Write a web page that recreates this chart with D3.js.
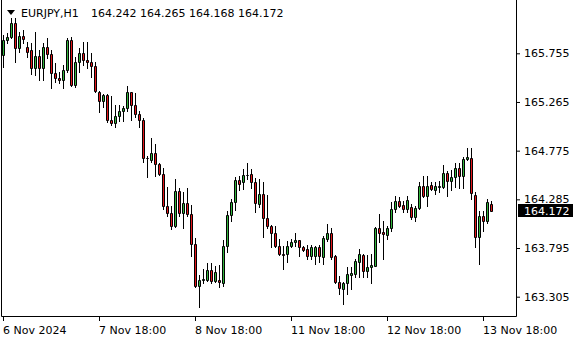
<!DOCTYPE html>
<html>
<head>
<meta charset="utf-8">
<script src="https://cdn.jsdelivr.net/npm/d3@7"></script>
<style>
  body { margin: 0; background: #fff; }
  svg { display: block; font-family: "DejaVu Sans", sans-serif; }
</style>
</head>
<body>
<svg width="580" height="340"></svg>
<script>
  // EURJPY H1 bars, 6 Nov 18:00 .. 13 Nov 20:00
  var opens = [165.738,165.889,165.919,166.059,165.809,165.929,165.819,165.789,165.608,165.728,
    165.608,165.819,165.748,165.558,165.508,165.488,165.588,165.889,165.437,165.668,
    165.758,165.688,165.668,165.628,165.367,165.277,165.337,165.086,165.056,165.127,
    165.177,165.207,165.367,165.237,165.147,165.086,164.705,164.685,164.755,164.645,
    164.545,164.214,164.144,164.013,164.364,164.144,164.244,164.134,163.833,163.411,
    163.472,163.472,163.572,163.462,163.472,163.442,163.813,164.124,164.254,164.475,
    164.455,164.535,164.545,164.455,164.234,164.334,164.093,164.013,163.943,163.813,
    163.732,163.732,163.813,163.853,163.873,163.803,163.783,163.712,163.712,163.803,
    163.702,163.883,163.943,163.712,163.452,163.381,163.442,163.522,163.532,163.652,
    163.722,163.562,163.602,163.612,163.993,163.953,163.923,163.993,164.184,164.264,
    164.224,164.184,164.204,164.103,164.194,164.424,164.314,164.434,164.374,164.414,
    164.414,164.555,164.465,164.505,164.605,164.515,164.695,164.705,164.324,163.903,
    164.113,164.063,164.242]
  var highs = [165.939,165.959,166.109,166.109,165.969,165.989,165.869,165.859,165.969,165.789,
    165.859,165.909,165.789,165.658,165.568,165.638,165.909,165.919,165.718,165.809,
    165.869,165.869,165.758,165.668,165.377,165.347,165.347,165.327,165.237,165.237,
    165.227,165.427,165.370,165.357,165.177,165.106,164.718,164.906,164.846,164.655,
    164.605,164.414,164.214,164.485,164.404,164.354,164.404,164.224,163.893,163.522,
    163.582,163.642,163.642,163.612,163.622,163.873,164.164,164.284,164.505,164.515,
    164.595,164.655,164.595,164.495,164.485,164.455,164.324,164.023,164.013,163.883,
    163.813,163.863,163.883,163.943,163.873,163.813,163.823,163.823,163.813,163.823,
    163.913,164.033,163.993,163.722,163.512,163.452,163.602,163.602,163.682,163.783,
    163.732,163.722,163.732,164.003,164.134,164.063,164.013,164.254,164.314,164.304,
    164.264,164.314,164.234,164.214,164.455,164.515,164.515,164.455,164.455,164.465,
    164.635,164.575,164.585,164.655,164.655,164.715,164.806,164.806,164.354,164.164,
    164.164,164.284,164.265]
  var lows = [165.618,165.859,165.909,165.668,165.768,165.859,165.718,165.548,165.538,165.488,
    165.488,165.708,165.407,165.467,165.457,165.407,165.568,165.427,165.417,165.568,
    165.638,165.608,165.518,165.367,165.167,165.217,165.066,165.036,165.016,165.076,
    165.076,165.177,165.080,165.116,165.016,164.665,164.505,164.665,164.515,164.525,
    164.184,164.113,163.983,164.003,164.113,163.993,164.113,163.712,163.401,163.201,
    163.442,163.462,163.442,163.452,163.401,163.411,163.752,164.063,164.174,164.384,
    164.394,164.485,164.404,164.154,164.204,163.903,163.993,163.803,163.803,163.722,
    163.582,163.652,163.803,163.813,163.712,163.762,163.682,163.682,163.632,163.652,
    163.632,163.863,163.682,163.442,163.331,163.231,163.331,163.381,163.502,163.502,
    163.502,163.502,163.442,163.612,163.853,163.682,163.883,163.963,164.154,164.204,
    164.154,164.154,164.083,164.063,164.184,164.304,164.214,164.384,164.334,164.354,
    164.404,164.314,164.384,164.414,164.404,164.404,164.685,164.284,163.803,163.632,
    163.963,164.043,164.168]
  var closes = [165.889,165.919,166.059,165.809,165.929,165.899,165.768,165.608,165.728,165.608,
    165.819,165.748,165.558,165.508,165.488,165.588,165.889,165.437,165.668,165.758,
    165.688,165.668,165.628,165.377,165.277,165.337,165.080,165.056,165.127,165.177,
    165.207,165.367,165.230,165.147,165.086,164.705,164.700,164.755,164.645,164.545,
    164.214,164.144,164.013,164.364,164.144,164.244,164.134,163.833,163.411,163.472,
    163.482,163.572,163.462,163.552,163.452,163.813,164.124,164.254,164.475,164.444,
    164.535,164.525,164.455,164.244,164.334,164.093,164.013,163.943,163.813,163.732,
    163.727,163.813,163.853,163.873,163.803,163.772,163.712,163.803,163.803,163.712,
    163.893,163.943,163.702,163.452,163.391,163.442,163.532,163.542,163.662,163.732,
    163.562,163.602,163.622,163.993,163.943,163.933,163.993,164.184,164.264,164.214,
    164.184,164.274,164.103,164.194,164.424,164.314,164.424,164.394,164.424,164.424,
    164.555,164.465,164.505,164.605,164.515,164.695,164.715,164.344,163.903,164.113,
    164.063,164.254,164.172]

  var priceTicks = [165.755, 165.265, 164.775, 164.285, 163.795, 163.305]
  var timeTickBars = [0, 24, 48, 72, 96, 120]
  var timeTickLabels = ["6 Nov 2024", "7 Nov 18:00", "8 Nov 18:00", "11 Nov 18:00", "12 Nov 18:00", "13 Nov 18:00"]

  var symbol = "EURJPY,H1"
  var lastBar = opens.length - 1

  var bull = "#31b43c", bear = "#e2161a"
  var plotRight = 516, plotBottom = 316

  var bars = d3.range(opens.length).map(i => ({
    i: i, o: opens[i], h: highs[i], l: lows[i], c: closes[i]
  }))

  var x = d3.scaleLinear().domain([0, 122]).range([3, 491])
  var y = d3.scaleLinear().domain([163.305, 165.755]).range([296.7, 53.3])

  var svg = d3.select("svg")

  svg.append("rect").attr("width", 580).attr("height", 340).attr("fill", "#fff")

  // candles
  var g = svg.append("g")

  g.selectAll("line.wick")
    .data(bars)
    .join("line")
    .attr("class", "wick")
    .attr("x1", d => Math.round(x(d.i)) + 0.5)
    .attr("x2", d => Math.round(x(d.i)) + 0.5)
    .attr("y1", d => Math.round(y(d.h)))
    .attr("y2", d => Math.round(y(d.l)) + 1)
    .attr("stroke", "#000")

  g.selectAll("path.body")
    .data(bars)
    .join("path")
    .attr("class", "body")
    .attr("d", d => {
      var c = Math.round(x(d.i))
      var t = Math.round(y(Math.max(d.o, d.c))) + 0.5
      var b = Math.round(y(Math.min(d.o, d.c))) + 0.5
      return `M${c - 0.5},${t}H${c + 1.5}V${b}H${c - 0.5}Z`
    })
    .attr("fill", d => d.c >= d.o ? bull : bear)
    .attr("stroke", "#000")

  // frame
  svg.append("path")
    .attr("d", `M1.5,0V${plotBottom + 0.5}H${plotRight + 0.5}V0`)
    .attr("fill", "none")
    .attr("stroke", "#000")

  // price axis
  var ya = svg.append("g")
    .attr("transform", `translate(${plotRight},0)`)
    .call(d3.axisRight(y).tickValues(priceTicks).tickSize(4).tickPadding(4).tickFormat(d3.format(".3f")))
  ya.select(".domain").remove()
  ya.attr("font-family", null).attr("font-size", 11)
  ya.selectAll("text").attr("fill", "#000")

  // time axis
  var xa = svg.append("g")
    .attr("transform", `translate(0,${plotBottom})`)
    .call(d3.axisBottom(x).tickValues(timeTickBars).tickSize(5).tickPadding(5).tickFormat((d, i) => timeTickLabels[i]))
  xa.select(".domain").remove()
  xa.attr("font-family", null).attr("font-size", 11)
  xa.selectAll("text").attr("text-anchor", "start").attr("x", -0.5).attr("fill", "#000")

  // current price tag
  var yc = y(closes[lastBar])
  svg.append("rect")
    .attr("x", 518).attr("y", Math.round(yc) - 7)
    .attr("width", 55).attr("height", 13)
    .attr("fill", "#000")
  svg.append("text")
    .attr("x", 524).attr("y", yc).attr("dy", "0.36em")
    .attr("font-size", 11).attr("fill", "#fff")
    .text(d3.format(".3f")(closes[lastBar]))

  // header
  svg.append("path").attr("d", "M7,10L15,10L11,15Z").attr("fill", "#000")
  svg.append("text").attr("x", 21).attr("y", 17).attr("font-size", 11).text(symbol)
  svg.append("text").attr("x", 91).attr("y", 17).attr("font-size", 11)
    .text([opens[lastBar], highs[lastBar], lows[lastBar], closes[lastBar]].map(d3.format(".3f")).join(" "))
</script>
</body>
</html>
